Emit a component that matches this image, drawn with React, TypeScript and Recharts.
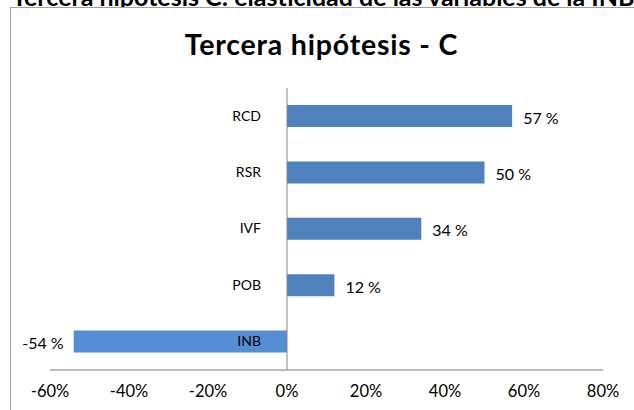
import { BarChart, Bar, XAxis, YAxis, Cell, LabelList, ReferenceLine } from "recharts";

const variables = ["RCD", "RSR", "IVF", "POB", "INB"];
const elasticidad = [57, 50, 34, 12, -54];
const xTicks = [-60, -40, -20, 0, 20, 40, 60, 80];

const data = variables.map((name, i) => ({ name, valor: elasticidad[i] }));

const FONT = "Lato, 'Open Sans', sans-serif";

// etiqueta de categoría pegada al eje del cero (como en Excel)
const CategoryLabel = (props: any) => {
  const { x, y, width, height, index } = props;
  const v = elasticidad[index];
  const zeroX = width < 0 ? x : v < 0 ? x + width : x;
  return (
    <text
      x={zeroX - 26}
      y={y + height / 2 - 1}
      textAnchor="end"
      dominantBaseline="central"
      fontSize={14}
      fill="#000"
      fontFamily={FONT}
    >
      {variables[index]}
    </text>
  );
};

const ValueLabel = (props: any) => {
  const { x, y, width, height, index } = props;
  const v = elasticidad[index];
  const left = Math.min(x, x + width);
  const right = Math.max(x, x + width);
  const neg = v < 0;
  return (
    <text
      x={neg ? left - 10 : right + 11}
      y={y + height / 2 + 1}
      textAnchor={neg ? "end" : "start"}
      dominantBaseline="central"
      fontSize={16}
      fill="#000"
      fontFamily={FONT}
    >
      {`${v} %`}
    </text>
  );
};

export default function App() {
  return (
    <div
      style={{
        position: "fixed",
        inset: 0,
        overflow: "hidden",
        background: "#fff",
        fontFamily: FONT,
      }}
    >
      <div
        style={{
          position: "absolute",
          left: 12,
          top: -19,
          fontSize: 25,
          lineHeight: "30px",
          fontWeight: 700,
          whiteSpace: "nowrap",
          color: "#000",
        }}
      >
        Tercera hipótesis C: elasticidad de las variables de la INB
      </div>
      <div
        style={{
          position: "absolute",
          left: 10,
          top: 7,
          width: 700,
          height: 500,
          border: "1px solid #A0A0A0",
          background: "#fff",
        }}
      >
        <div
          style={{
            position: "absolute",
            left: 0,
            top: 20,
            width: 621,
            textAlign: "center",
            fontSize: 28.5,
            lineHeight: "32px",
            fontWeight: 700,
            letterSpacing: "0.8px",
            color: "#000",
          }}
        >
          Tercera hipótesis - C
        </div>
        <div style={{ position: "absolute", left: 0, top: 0 }}>
          <BarChart
            width={640}
            height={420}
            data={data}
            layout="vertical"
            margin={{ top: 80, right: 48, bottom: 28, left: 39 }}
          >
            <XAxis
              type="number"
              domain={[-60, 80]}
              ticks={xTicks}
              tickFormatter={(v) => `${v}%`}
              axisLine={{ stroke: "#A6A6A6", strokeWidth: 1.5 }}
              tickLine={false}
              tickMargin={9}
              height={30}
              interval={0}
              tick={{ fontSize: 16.5, fill: "#000", fontFamily: FONT }}
            />
            <YAxis type="category" dataKey="name" hide />
            <Bar dataKey="valor" barSize={22} isAnimationActive={false}>
              {data.map((d) => (
                <Cell key={d.name} fill={d.valor < 0 ? "#558ED5" : "#4F81BD"} />
              ))}
              <LabelList dataKey="name" content={CategoryLabel} />
              <LabelList dataKey="valor" content={ValueLabel} />
            </Bar>
            <ReferenceLine x={0} stroke="#868686" strokeWidth={1} />
          </BarChart>
        </div>
      </div>
    </div>
  );
}
